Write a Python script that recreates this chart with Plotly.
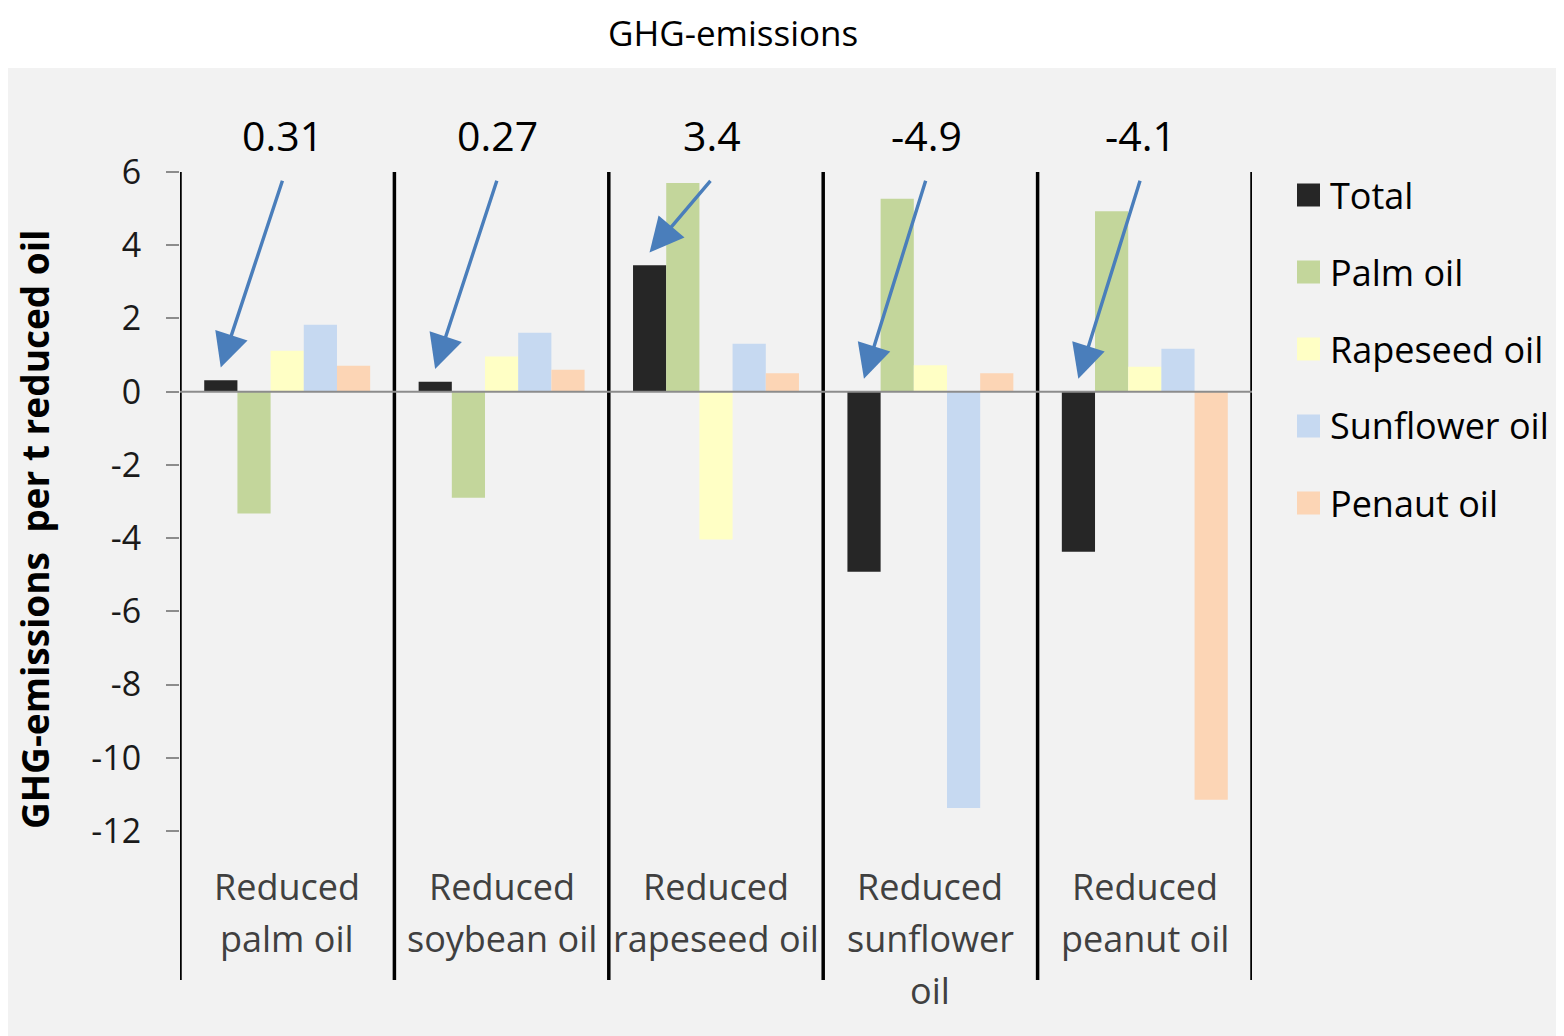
import plotly.graph_objects as go

# data
groups = ["Reduced<br>palm oil", "Reduced<br>soybean oil", "Reduced<br>rapeseed oil",
          "Reduced<br>sunflower<br>oil", "Reduced<br>peanut oil"]
total = [0.31, 0.27, 3.45, -4.92, -4.37]
palm_oil = [-3.33, -2.9, 5.7, 5.27, 4.93]
rapeseed_oil = [1.12, 0.96, -4.04, 0.72, 0.68]
sunflower_oil = [1.83, 1.61, 1.31, -11.37, 1.17]
peanut_oil = [0.71, 0.6, 0.5, 0.5, -11.15]
total_labels = ["0.31", "0.27", "3.4", "-4.9", "-4.1"]

series = [
    ("Total", total, "#262626"),
    ("Palm oil", palm_oil, "#c3d69b"),
    ("Rapeseed oil", rapeseed_oil, "#ffffc5"),
    ("Sunflower oil", sunflower_oil, "#c6d9f1"),
    ("Penaut oil", peanut_oil, "#fcd5b5"),
]

FONT = "Open Sans, Lato, sans-serif"
BG = "#f2f2f2"
ARROW = "#4a7ebb"
Y_MIN, Y_MAX = -16.07, 6.0

# page body has an 8px margin, so the figure is 8px smaller than the window
W, H = 1556, 1028
PLOT_L, PLOT_R, PLOT_T, PLOT_B = 180, 1252, 172, 980  # window pixels


def px(x):
    return (x - PLOT_L) / (PLOT_R - PLOT_L)


def py(y):
    return (PLOT_B - y) / (PLOT_B - PLOT_T)


xs = list(range(len(groups)))
fig = go.Figure()
for name, vals, color in series:
    fig.add_trace(go.Bar(x=xs, y=vals, name=name, marker_color=color,
                         marker_line_width=0, showlegend=False))

# grey background panel below the title
fig.add_shape(type="rect", xref="paper", yref="paper", layer="below",
              x0=px(6), x1=px(1570), y0=py(1040), y1=py(68),
              fillcolor=BG, line_width=0)

# group separators (also act as y axis line)
for i in range(len(groups) + 1):
    fig.add_shape(type="line", xref="x", yref="y", x0=i - 0.5, x1=i - 0.5,
                  y0=Y_MIN, y1=Y_MAX + 0.05, line=dict(color="black", width=3.5))

# zero line
fig.add_shape(type="line", xref="x", yref="y", x0=-0.556, x1=4.528, y0=0, y1=0,
              line=dict(color="#8c8c8c", width=2), layer="above")

# arrows pointing at the total bars, with labels
for i, (v, lab) in enumerate(zip(total, total_labels)):
    fig.add_annotation(x=i - 0.31, y=max(v, 0) + 0.35, xref="x", yref="y",
                       ax=i - 0.02, ay=5.8, axref="x", ayref="y", text="",
                       showarrow=True, arrowhead=2, arrowsize=2.0,
                       arrowwidth=3.4, arrowcolor=ARROW)
    fig.add_annotation(x=i - 0.02, y=py(135), xref="x", yref="paper", text=lab,
                       showarrow=False, yanchor="middle",
                       font=dict(family=FONT, size=41, color="black"))

# category labels inside the separators, one line each
for i, g in enumerate(groups):
    for k, line in enumerate(g.split("<br>")):
        fig.add_annotation(x=i, y=py(886 + 52 * k), xref="x", yref="paper", text=line,
                           showarrow=False, yanchor="middle",
                           font=dict(family=FONT, size=36, color="#404040"))

# legend drawn by hand so the swatches match the reference size
for k, (name, _, color) in enumerate(series):
    yc = 195 + 77 * k
    fig.add_shape(type="rect", xref="paper", yref="paper",
                  x0=px(1297), x1=px(1320), y0=py(yc + 11.5), y1=py(yc - 11.5),
                  fillcolor=color, line_width=0)
    fig.add_annotation(x=px(1328), y=py(yc), xref="paper", yref="paper", text=name,
                       showarrow=False, xanchor="left", yanchor="middle",
                       font=dict(family=FONT, size=36, color="black"))

# y axis title
fig.add_annotation(x=px(34), y=py(530), xref="paper", yref="paper",
                   xanchor="center", yanchor="middle",
                   text="<b>GHG-emissions  per t reduced oil</b>", textangle=-90,
                   showarrow=False, font=dict(family=FONT, size=37, color="black"))

# chart title
fig.add_annotation(x=px(733), y=py(33), xref="paper", yref="paper",
                   xanchor="center", yanchor="middle", text="GHG-emissions",
                   showarrow=False, font=dict(family=FONT, size=35, color="black"))

tickvals = list(range(-12, 7, 2))
fig.update_layout(
    width=W, height=H,
    margin=dict(l=PLOT_L - 8, r=W - (PLOT_R - 8), t=PLOT_T - 8, b=H - (PLOT_B - 8)),
    paper_bgcolor="white", plot_bgcolor=BG,
    barmode="group", bargap=0.226, bargroupgap=0,
    xaxis=dict(range=[-0.5, 4.5], showticklabels=False, showgrid=False,
               zeroline=False, showline=False),
    yaxis=dict(range=[Y_MIN, Y_MAX], tickvals=tickvals,
               ticktext=[str(t) for t in tickvals], ticks="outside", ticklen=13,
               tickwidth=2, tickcolor="#8c8c8c", showgrid=False, zeroline=False,
               showline=False, ticklabelstandoff=18,
               tickfont=dict(family=FONT, size=34, color="#1a1a1a")),
    showlegend=False,
)

fig.write_html("out.html")
